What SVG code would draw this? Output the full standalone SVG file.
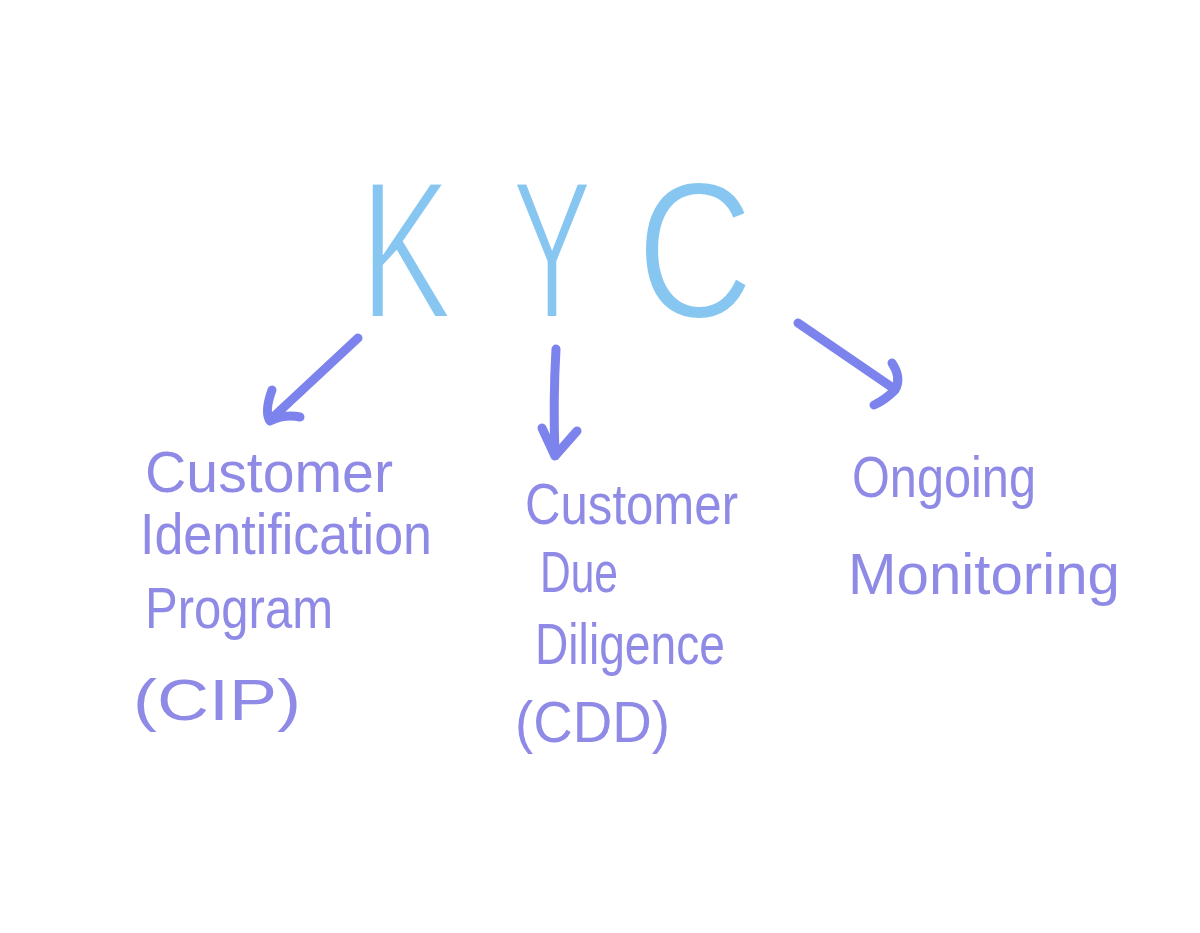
<svg xmlns="http://www.w3.org/2000/svg" width="1200" height="933" viewBox="0 0 1200 933">
<style>
.kyc{font-family:"Liberation Sans",Arial,sans-serif;font-size:196px;fill:#86c6f0;stroke:#ffffff;stroke-width:4px;}
.lbl{font-family:"Liberation Sans",Arial,sans-serif;font-size:58px;fill:#8f8ae6;}
.arr{fill:none;stroke:#7d83ec;stroke-width:9;stroke-linecap:round;stroke-linejoin:round;}
</style>
<rect width="1200" height="933" fill="#ffffff"/>
<g id="kyc">
<text class="kyc" x="360" y="318" textLength="92" lengthAdjust="spacingAndGlyphs">K</text>
<text class="kyc" x="512" y="318" textLength="80" lengthAdjust="spacingAndGlyphs">Y</text>
<text class="kyc" x="636" y="318" textLength="118" lengthAdjust="spacingAndGlyphs">C</text>
</g>
<g id="connectors">
<path class="arr" d="M358,338 L270,420"/>
<path class="arr" d="M272,390 Q264,412 270,421 Q285,414 300,417"/>
<path class="arr" d="M556,349 Q553,400 555,455"/>
<path class="arr" d="M542,428 L555,456 L577,431"/>
<path class="arr" d="M798,323 L893,388"/>
<path class="arr" d="M892,363 Q902,378 895,390 Q885,400 874,405"/>
</g>
<g id="cip">
<text class="lbl" x="145" y="492" textLength="248" lengthAdjust="spacingAndGlyphs">Customer</text>
<text class="lbl" x="140" y="554" textLength="292" lengthAdjust="spacingAndGlyphs">Identification</text>
<text class="lbl" x="145" y="628" textLength="188" lengthAdjust="spacingAndGlyphs">Program</text>
<text class="lbl" x="133" y="720" textLength="168" lengthAdjust="spacingAndGlyphs">(CIP)</text>
</g>
<g id="cdd">
<text class="lbl" x="525" y="524" textLength="213" lengthAdjust="spacingAndGlyphs">Customer</text>
<text class="lbl" x="540" y="592" textLength="78" lengthAdjust="spacingAndGlyphs">Due</text>
<text class="lbl" x="535" y="664" textLength="190" lengthAdjust="spacingAndGlyphs">Diligence</text>
<text class="lbl" x="515" y="742" textLength="155" lengthAdjust="spacingAndGlyphs">(CDD)</text>
</g>
<g id="ongoing">
<text class="lbl" x="852" y="497" textLength="184" lengthAdjust="spacingAndGlyphs">Ongoing</text>
<text class="lbl" x="848" y="594" textLength="272" lengthAdjust="spacingAndGlyphs">Monitoring</text>
</g>
</svg>
